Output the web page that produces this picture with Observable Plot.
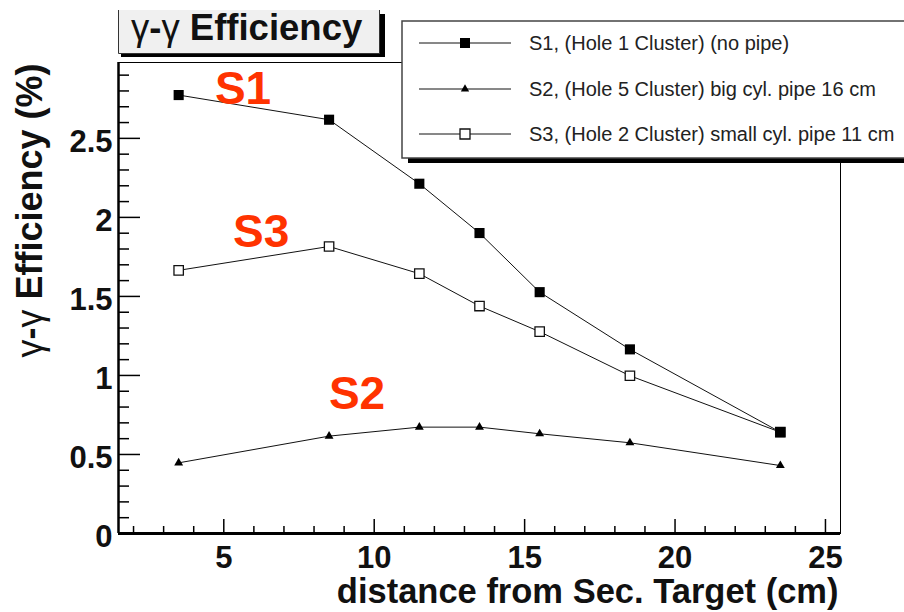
<!DOCTYPE html>
<html>
<head>
<meta charset="utf-8">
<script src="https://cdn.jsdelivr.net/npm/d3@7"></script>
<script src="https://cdn.jsdelivr.net/npm/@observablehq/plot@0.6"></script>
<style>
  html, body { margin: 0; padding: 0; background: #fff; }
  #chart svg { display: block; }
</style>
</head>
<body>
<div id="chart"></div>
<script>
// ---- data ----
const distance = [3.5, 8.5, 11.5, 13.5, 15.5, 18.5, 23.5];
const s1 = [2.774, 2.618, 2.213, 1.901, 1.527, 1.165, 0.641];
const s2 = [0.447, 0.616, 0.673, 0.673, 0.631, 0.574, 0.430];
const s3 = [1.665, 1.816, 1.644, 1.439, 1.277, 0.998, 0.641];
const seriesNames = ["S1", "S2", "S3"];
const legendLabels = [
  "S1, (Hole 1 Cluster) (no pipe)",
  "S2, (Hole 5 Cluster) big cyl. pipe 16 cm",
  "S3, (Hole 2 Cluster) small cyl. pipe 11 cm"
];
const annotX = [5.64, 9.43, 6.24];
const annotY = [2.811, 0.878, 1.904];
const xMajor = [5, 10, 15, 20, 25];
const xMinor = [2, 3, 4, 6, 7, 8, 9, 11, 12, 13, 14, 16, 17, 18, 19, 21, 22, 23, 24];
const yMajor = [0, 0.5, 1, 1.5, 2, 2.5];
const yMinor = [0.1, 0.2, 0.3, 0.4, 0.6, 0.7, 0.8, 0.9, 1.1, 1.2, 1.3, 1.4, 1.6, 1.7, 1.8, 1.9,
                2.1, 2.2, 2.3, 2.4, 2.6, 2.7, 2.8, 2.9];
const xDomain = [1.5, 25.5];
const yDomain = [0, 2.98];
const xTitle = "distance from Sec. Target (cm)";
const yTitle = "γ-γ Efficiency (%)";
const boxTitle = "γ-γ Efficiency";

// ---- build table ----
const values = {S1: s1, S2: s2, S3: s3};
const rows = [];
for (const name of seriesNames) {
  distance.forEach((d, i) => rows.push({series: name, distance: d, eff: values[name][i]}));
}
const annots = seriesNames.map((n, i) => ({name: n, x: annotX[i], y: annotY[i]}));

const W = 904, H = 612;
const mL = 118, mR = 64, mT = 62, mB = 79;
const fw = W - mL - mR, fh = H - mT - mB;
const FONT = "'Liberation Sans', Arial, Helvetica, sans-serif";

const plot = Plot.plot({
  width: W, height: H,
  marginLeft: mL, marginRight: mR, marginTop: mT, marginBottom: mB,
  x: {domain: xDomain},
  y: {domain: yDomain},
  style: {fontFamily: FONT, background: "#fff", color: "#000"},
  marks: [
    Plot.frame({stroke: "#000", strokeWidth: 1}),
    Plot.tickY(yMinor, {y: d => d, insetRight: fw - 11, stroke: "#000", strokeWidth: 1.5}),
    Plot.tickY(yMajor, {y: d => d, insetRight: fw - 22, stroke: "#000", strokeWidth: 1.5}),
    Plot.tickX(xMinor, {x: d => d, insetTop: fh - 7, stroke: "#000", strokeWidth: 1.5}),
    Plot.tickX(xMajor, {x: d => d, insetTop: fh - 14, stroke: "#000", strokeWidth: 1.5}),
    Plot.ruleY([yDomain[0]], {stroke: "#000", strokeWidth: 3}),
    Plot.ruleX([xDomain[0]], {stroke: "#000", strokeWidth: 2.5}),
    Plot.axisY({ticks: yMajor, tickSize: 0, tickPadding: 6, tickFormat: d => String(d),
      fontSize: 31, fontWeight: "bold", fill: "#111", dy: 4, label: null}),
    Plot.axisX({ticks: xMajor, tickSize: 0, tickPadding: 12, tickFormat: d => String(d),
      fontSize: 31, fontWeight: "bold", fill: "#111", label: null}),
    Plot.line(rows, {x: "distance", y: "eff", z: "series", stroke: "#111", strokeWidth: 1}),
    Plot.dot(rows.filter(r => r.series === "S2"), {x: "distance", y: "eff", symbol: "triangle", r: 3.3, fill: "#000"}),
    Plot.dot(rows.filter(r => r.series === "S3"), {x: "distance", y: "eff", symbol: "square", r: 5.3, fill: "#fff", stroke: "#111", strokeWidth: 1.3}),
    Plot.dot(rows.filter(r => r.series === "S1"), {x: "distance", y: "eff", symbol: "square", r: 5.7, fill: "#000"}),
    Plot.text(annots, {x: "x", y: "y", text: "name", fill: "#ff3300", fontSize: 46, fontWeight: "bold"}),
    Plot.text([xTitle], {frameAnchor: "bottom-right", textAnchor: "end", lineAnchor: "middle", dx: -2, dy: 58,
      fontSize: 34.5, fontWeight: "bold", fill: "#111"}),
    Plot.text([yTitle], {frameAnchor: "top-left", textAnchor: "end", lineAnchor: "middle", rotate: -90, dx: -88, dy: 1,
      fontSize: 36, fontWeight: "bold", fill: "#111"})
  ]
});

document.getElementById("chart").appendChild(plot);
const svg = d3.select(plot);
svg.attr("overflow", "hidden");

// make greek gamma non-bold inside texts
function splitGreek(el) {
  const s = el.textContent;
  const sel = d3.select(el);
  sel.text("");
  let run = "", greek = null;
  const flush = () => {
    if (!run) return;
    const t = sel.append("tspan").text(run);
    if (greek) t.attr("font-weight", "normal");
    run = "";
  };
  for (const ch of s) {
    const g = ch === "γ";
    if (greek !== null && g !== greek) flush();
    greek = g;
    run += ch;
  }
  flush();
}
svg.selectAll("text").each(function () {
  if (this.textContent === yTitle) splitGreek(this);
});

// ---- title box ----
const tb = svg.append("g");
tb.append("rect").attr("x", 121).attr("y", 14).attr("width", 264).attr("height", 43).attr("fill", "#000");
tb.append("rect").attr("x", 118.5).attr("y", 10).attr("width", 261).attr("height", 43.5).attr("fill", "#f0f0f0");
tb.append("path").attr("d", "M118.5,10V53.5H379.5V10").attr("fill", "none").attr("stroke", "#333").attr("stroke-width", 1);
const tt = tb.append("text").attr("x", 131).attr("y", 40).attr("text-anchor", "start")
  .attr("font-family", FONT).attr("font-size", 36.5).attr("font-weight", "bold").attr("fill", "#111")
  .text(boxTitle);
splitGreek(tt.node());

// ---- legend ----
const lg = svg.append("g");
lg.append("rect").attr("x", 408).attr("y", 26).attr("width", 520).attr("height", 137).attr("fill", "#000");
lg.append("rect").attr("x", 402).attr("y", 21).attr("width", 520).attr("height", 137)
  .attr("fill", "#fff").attr("stroke", "#444").attr("stroke-width", 1.5);
const rowY = [43, 89, 134];
seriesNames.forEach((n, i) => {
  const y = rowY[i];
  lg.append("line").attr("x1", 419).attr("x2", 511).attr("y1", y).attr("y2", y)
    .attr("stroke", "#111").attr("stroke-width", 1);
  if (n === "S1") {
    lg.append("path").attr("transform", `translate(465,${y})`)
      .attr("d", d3.symbol(d3.symbolSquare, 100)()).attr("fill", "#000");
  } else if (n === "S2") {
    lg.append("path").attr("transform", `translate(465,${y})`)
      .attr("d", d3.symbol(d3.symbolTriangle, 30)()).attr("fill", "#000");
  } else {
    lg.append("path").attr("transform", `translate(465,${y})`)
      .attr("d", d3.symbol(d3.symbolSquare, 100)()).attr("fill", "#fff")
      .attr("stroke", "#111").attr("stroke-width", 1.3);
  }
  lg.append("text").attr("x", 529).attr("y", y + 7).attr("text-anchor", "start")
    .attr("font-family", FONT).attr("font-size", 20).attr("fill", "#222")
    .text(legendLabels[i]);
});
</script>
</body>
</html>
